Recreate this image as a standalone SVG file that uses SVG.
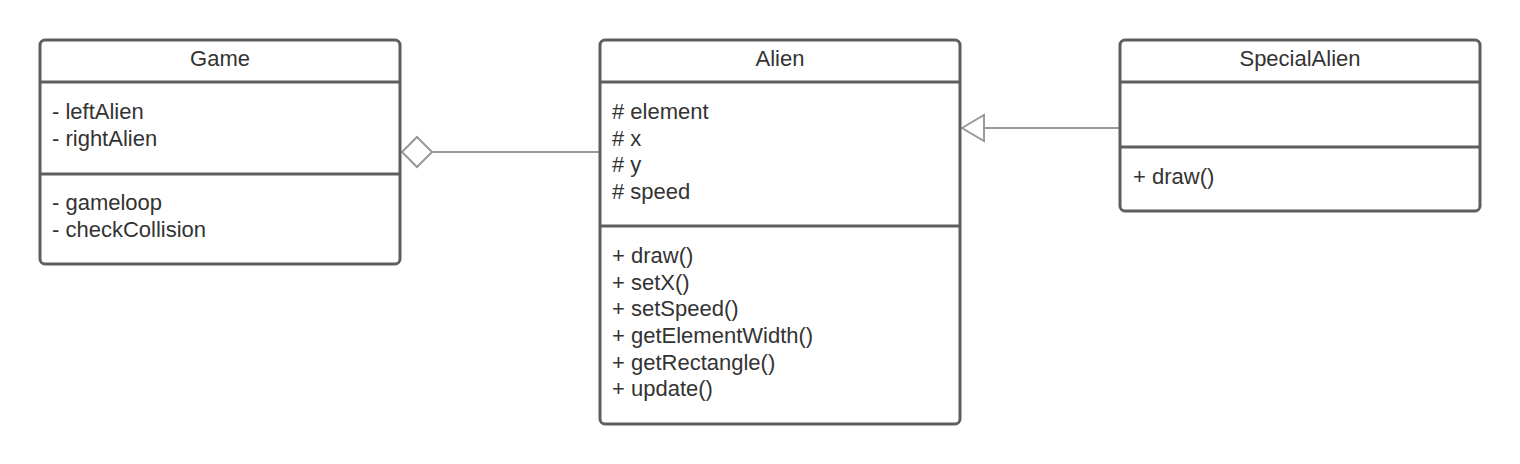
<svg xmlns="http://www.w3.org/2000/svg" width="1520" height="464" viewBox="0 0 1520 464">
  <style>
    .box { fill: #ffffff; stroke: #5e5e5e; stroke-width: 3; }
    .div { stroke: #5e5e5e; stroke-width: 3; }
    .t { font-family: "Liberation Sans", Arial, sans-serif; font-size: 22px; fill: #333333; }
    .title { text-anchor: middle; }
    .conn { stroke: #999999; stroke-width: 2; fill: none; }
    .head { stroke: #999999; stroke-width: 2; fill: #ffffff; }
  </style>
  <rect x="0" y="0" width="1520" height="464" fill="#ffffff"/>

  <g id="connectors">
    <line class="conn" x1="432" y1="152" x2="600" y2="152"/>
    <polygon class="head" points="402,152 417,137 432,152 417,167"/>
    <line class="conn" x1="984" y1="128" x2="1120" y2="128"/>
    <polygon class="head" points="962,128 984,115 984,141"/>
  </g>

  <g id="Game">
    <rect class="box" x="40" y="40" width="360" height="224" rx="5"/>
    <line class="div" x1="40" y1="82" x2="400" y2="82"/>
    <line class="div" x1="40" y1="174" x2="400" y2="174"/>
    <text class="t title" x="220" y="66">Game</text>
    <text class="t" x="52" y="119">- leftAlien</text>
    <text class="t" x="52" y="146">- rightAlien</text>
    <text class="t" x="52" y="210">- gameloop</text>
    <text class="t" x="52" y="237">- checkCollision</text>
  </g>

  <g id="Alien">
    <rect class="box" x="600" y="40" width="360" height="384" rx="5"/>
    <line class="div" x1="600" y1="82" x2="960" y2="82"/>
    <line class="div" x1="600" y1="226" x2="960" y2="226"/>
    <text class="t title" x="780" y="66">Alien</text>
    <text class="t" x="612" y="119"># element</text>
    <text class="t" x="612" y="146"># x</text>
    <text class="t" x="612" y="172"># y</text>
    <text class="t" x="612" y="199"># speed</text>
    <text class="t" x="612" y="263">+ draw()</text>
    <text class="t" x="612" y="290">+ setX()</text>
    <text class="t" x="612" y="316">+ setSpeed()</text>
    <text class="t" x="612" y="343">+ getElementWidth()</text>
    <text class="t" x="612" y="370">+ getRectangle()</text>
    <text class="t" x="612" y="396">+ update()</text>
  </g>

  <g id="SpecialAlien">
    <rect class="box" x="1120" y="40" width="360" height="171" rx="5"/>
    <line class="div" x1="1120" y1="82" x2="1480" y2="82"/>
    <line class="div" x1="1120" y1="147" x2="1480" y2="147"/>
    <text class="t title" x="1300" y="66">SpecialAlien</text>
    <text class="t" x="1133" y="184">+ draw()</text>
  </g>
</svg>
